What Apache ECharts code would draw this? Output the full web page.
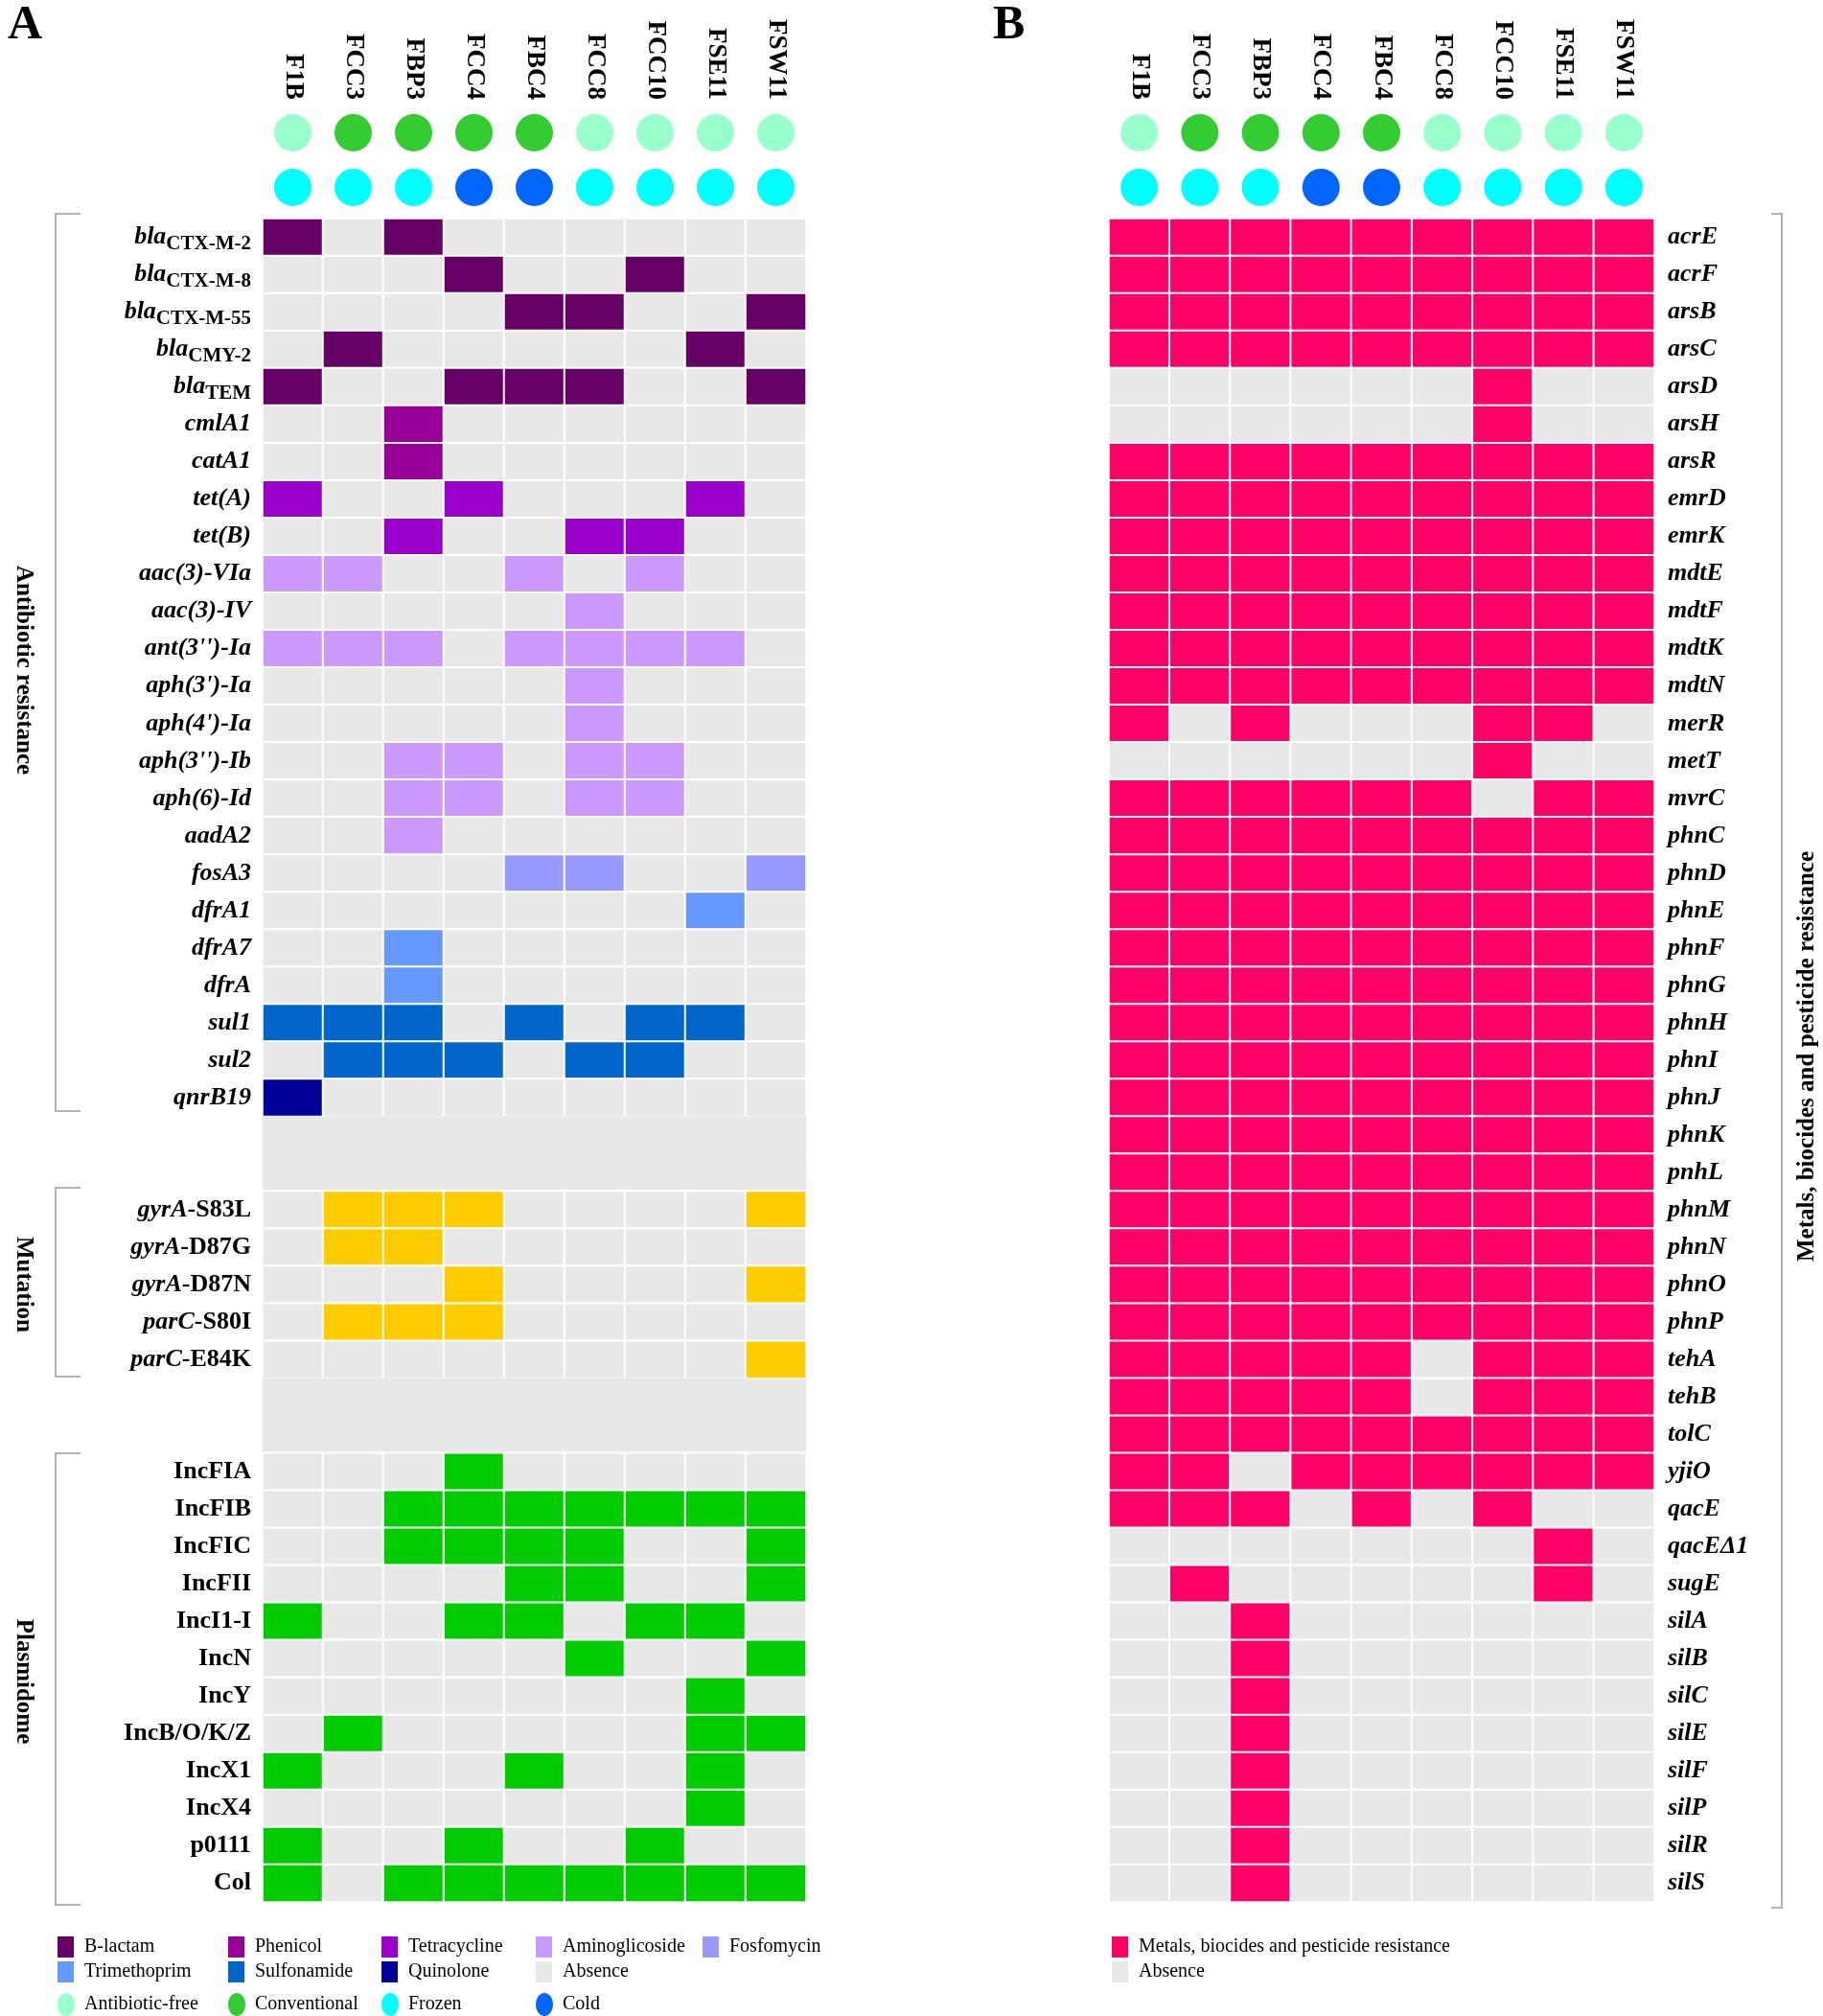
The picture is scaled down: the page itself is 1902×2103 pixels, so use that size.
<!DOCTYPE html>
<html><head><meta charset="utf-8">
<script src="https://cdn.jsdelivr.net/npm/echarts@6/dist/echarts.min.js"></script>
<style>html,body{margin:0;padding:0;background:#fff}#c{width:1902px;height:2103px}</style>
</head><body><div id="c"></div>
<script>
const samples = ['F1B','FCC3','FBP3','FCC4','FBC4','FCC8','FCC10','FSE11','FSW11'];
const sourceType = ['free','conv','conv','conv','conv','free','free','free','free'];
const storageType = ['frozen','frozen','frozen','cold','cold','frozen','frozen','frozen','frozen'];

const argRows = ['blaCTX-M-2','blaCTX-M-8','blaCTX-M-55','blaCMY-2','blaTEM','cmlA1','catA1','tet(A)','tet(B)','aac(3)-VIa','aac(3)-IV',"ant(3'')-Ia","aph(3')-Ia","aph(4')-Ia","aph(3'')-Ib",'aph(6)-Id','aadA2','fosA3','dfrA1','dfrA7','dfrA','sul1','sul2','qnrB19'];
const argClass = [1,1,1,1,1,2,2,3,3,4,4,4,4,4,4,4,4,5,6,6,6,7,7,8];
const argMatrix = [
 [1,0,1,0,0,0,0,0,0],[0,0,0,1,0,0,1,0,0],[0,0,0,0,1,1,0,0,1],[0,1,0,0,0,0,0,1,0],[1,0,0,1,1,1,0,0,1],
 [0,0,1,0,0,0,0,0,0],[0,0,1,0,0,0,0,0,0],[1,0,0,1,0,0,0,1,0],[0,0,1,0,0,1,1,0,0],
 [1,1,0,0,1,0,1,0,0],[0,0,0,0,0,1,0,0,0],[1,1,1,0,1,1,1,1,0],[0,0,0,0,0,1,0,0,0],[0,0,0,0,0,1,0,0,0],
 [0,0,1,1,0,1,1,0,0],[0,0,1,1,0,1,1,0,0],[0,0,1,0,0,0,0,0,0],[0,0,0,0,1,1,0,0,1],
 [0,0,0,0,0,0,0,1,0],[0,0,1,0,0,0,0,0,0],[0,0,1,0,0,0,0,0,0],[1,1,1,0,1,0,1,1,0],[0,1,1,1,0,1,1,0,0],[1,0,0,0,0,0,0,0,0]];
const mutRows = ['gyrA-S83L','gyrA-D87G','gyrA-D87N','parC-S80I','parC-E84K'];
const mutMatrix = [[0,1,1,1,0,0,0,0,1],[0,1,1,0,0,0,0,0,0],[0,0,0,1,0,0,0,0,1],[0,1,1,1,0,0,0,0,0],[0,0,0,0,0,0,0,0,1]];
const plasRows = ['IncFIA','IncFIB','IncFIC','IncFII','IncI1-I','IncN','IncY','IncB/O/K/Z','IncX1','IncX4','p0111','Col'];
const plasMatrix = [[0,0,0,1,0,0,0,0,0],[0,0,1,1,1,1,1,1,1],[0,0,1,1,1,1,0,0,1],[0,0,0,0,1,1,0,0,1],
 [1,0,0,1,1,0,1,1,0],[0,0,0,0,0,1,0,0,1],[0,0,0,0,0,0,0,1,0],[0,1,0,0,0,0,0,1,1],[1,0,0,0,1,0,0,1,0],
 [0,0,0,0,0,0,0,1,0],[1,0,0,1,0,0,1,0,0],[1,0,1,1,1,1,1,1,1]];
const metalRows = ['acrE','acrF','arsB','arsC','arsD','arsH','arsR','emrD','emrK','mdtE','mdtF','mdtK','mdtN','merR','metT','mvrC','phnC','phnD','phnE','phnF','phnG','phnH','phnI','phnJ','phnK','pnhL','phnM','phnN','phnO','phnP','tehA','tehB','tolC','yjiO','qacE','qacEΔ1','sugE','silA','silB','silC','silE','silF','silP','silR','silS'];
const A=[1,1,1,1,1,1,1,1,1];
const metalMatrix = [A,A,A,A,[0,0,0,0,0,0,1,0,0],[0,0,0,0,0,0,1,0,0],A,A,A,A,A,A,A,
 [1,0,1,0,0,0,1,1,0],[0,0,0,0,0,0,1,0,0],[1,1,1,1,1,1,0,1,1],
 A,A,A,A,A,A,A,A,A,A,A,A,A,A,
 [1,1,1,1,1,0,1,1,1],[1,1,1,1,1,0,1,1,1],A,[1,1,0,1,1,1,1,1,1],[1,1,1,0,1,0,1,0,0],
 [0,0,0,0,0,0,0,1,0],[0,1,0,0,0,0,0,1,0],
 [0,0,1,0,0,0,0,0,0],[0,0,1,0,0,0,0,0,0],[0,0,1,0,0,0,0,0,0],[0,0,1,0,0,0,0,0,0],[0,0,1,0,0,0,0,0,0],[0,0,1,0,0,0,0,0,0],[0,0,1,0,0,0,0,0,0],[0,0,1,0,0,0,0,0,0]];

const classColors = ['#E8E8E8','#660066','#990099','#9900CC','#CC99FF','#9999FF','#6699FF','#0066CC','#000099','#FFCC00','#00CC00','#FF0066','#E8E8E8'];
const dotColors = {free:'#99FFCC',conv:'#33CC33',frozen:'#00FFFF',cold:'#0066FF'};

const rowsA = [], dataA = [];
function addRows(names, matrix, cls){
  names.forEach((n,r)=>{ const y=rowsA.length; rowsA.push(n);
    matrix[r].forEach((v,x)=>dataA.push([x,y,v?(Array.isArray(cls)?cls[r]:cls):0])); });
}
function addBlank(k){ for(let i=0;i<k;i++){ const y=rowsA.length; rowsA.push('_b'+y);
  samples.forEach((s,x)=>dataA.push({value:[x,y,12],itemStyle:{borderWidth:0}})); } }
addRows(argRows,argMatrix,argClass); addBlank(2);
addRows(mutRows,mutMatrix,9); addBlank(2);
addRows(plasRows,plasMatrix,10);
const dataB=[];
metalRows.forEach((n,r)=>metalMatrix[r].forEach((v,x)=>dataB.push([x,r,v?11:0])));

function fmtA(v){
  if(v.startsWith('_b')) return '';
  if(v.startsWith('bla')) return '{i|bla}{s|'+v.slice(3)+'}';
  if(v.startsWith('gyrA')||v.startsWith('parC')) return '{i|'+v.slice(0,4)+'}{b|'+v.slice(4)+'}';
  if(plasRows.includes(v)) return '{b|'+v+'}';
  return '{i|'+v+'}';
}
const FF='"Liberation Serif","Times New Roman",serif';
const rich={i:{fontFamily:FF,fontSize:26,fontWeight:'bold',fontStyle:'italic',color:'#000'},
 s:{fontFamily:FF,fontSize:21,fontWeight:'bold',color:'#000',padding:[14,0,0,0]},
 b:{fontFamily:FF,fontSize:26,fontWeight:'bold',color:'#000'}};

const gridAx=274, gridBx=1157, gw=567, gtop=228, gh=1756;
const chart = echarts.init(document.getElementById('c'));
const dotData = ()=>{const d=[];samples.forEach((s,i)=>{d.push({value:[i,0],itemStyle:{color:dotColors[sourceType[i]],opacity:1}});d.push({value:[i,1],itemStyle:{color:dotColors[storageType[i]],opacity:1}});});return d;};
const xTop = (gi)=>({type:'category',gridIndex:gi,data:samples,position:'top',axisLine:{show:false},axisTick:{show:false},
  axisLabel:{rotate:90,margin:6,fontFamily:FF,fontSize:27,fontWeight:'bold',color:'#000'}});
const xHid = (gi)=>({type:'category',gridIndex:gi,data:samples,show:false});

const gray='#999';
function bracketL(y1,y2){return {type:'polyline',shape:{points:[[84,y1],[58,y1],[58,y2],[84,y2]]},style:{stroke:gray,lineWidth:1.5,fill:null}};}
const legendItems=[
 ['B-lactam',1,60,2031],['Phenicol',2,238,2031],['Tetracycline',3,398,2031],['Aminoglicoside',4,559,2031],['Fosfomycin',5,733,2031],
 ['Trimethoprim',6,60,2057],['Sulfonamide',7,238,2057],['Quinolone',8,398,2057],['Absence',0,559,2057],
 ['Metals, biocides and pesticide resistance',11,1160,2031],['Absence',0,1160,2057]];
const legendDots=[['Antibiotic-free','free',60,2091],['Conventional','conv',238,2091],['Frozen','frozen',398,2091],['Cold','cold',559,2091]];
const graphics=[
 {type:'text',left:8,top:2,style:{text:'A',font:'bold 50px '+FF,fill:'#000'}},
 {type:'text',left:1036,top:2,style:{text:'B',font:'bold 50px '+FF,fill:'#000'}},
 bracketL(223,1159),bracketL(1239,1436),bracketL(1516,1987),
 {type:'polyline',shape:{points:[[1848,223],[1859,223],[1859,1990],[1848,1990]]},style:{stroke:gray,lineWidth:1.5,fill:null}},
 {type:'text',x:24,y:699,rotation:-Math.PI/2,style:{text:'Antibiotic resistance',font:'bold 25px '+FF,fill:'#000',align:'center',verticalAlign:'middle'}},
 {type:'text',x:24,y:1340,rotation:-Math.PI/2,style:{text:'Mutation',font:'bold 25px '+FF,fill:'#000',align:'center',verticalAlign:'middle'}},
 {type:'text',x:24,y:1754,rotation:-Math.PI/2,style:{text:'Plasmidome',font:'bold 25px '+FF,fill:'#000',align:'center',verticalAlign:'middle'}},
 {type:'text',x:1886,y:1102,rotation:Math.PI/2,style:{text:'Metals, biocides and pesticide resistance',font:'bold 25px '+FF,fill:'#000',align:'center',verticalAlign:'middle'}}
];
legendItems.forEach(([t,c,x,y])=>{graphics.push({type:'rect',shape:{x:x,y:y-11,width:17,height:22},style:{fill:classColors[c]}});
 graphics.push({type:'text',x:x+28,y:y,style:{text:t,font:'20px '+FF,fill:'#000',verticalAlign:'middle'}});});
legendDots.forEach(([t,c,x,y])=>{graphics.push({type:'ellipse',shape:{cx:x+9,cy:y,rx:9,ry:12},style:{fill:dotColors[c]}});
 graphics.push({type:'text',x:x+28,y:y,style:{text:t,font:'20px '+FF,fill:'#000',verticalAlign:'middle'}});});

chart.setOption({
 animation:false,backgroundColor:'#fff',
 grid:[{left:gridAx,top:gtop,width:gw,height:gh},{left:gridBx,top:gtop,width:gw+2,height:gh},
   {left:gridAx,top:110,width:gw,height:114},{left:gridBx,top:110,width:gw+2,height:114}],
 xAxis:[xHid(0),xHid(1),xTop(2),xTop(3)],
 yAxis:[
  {type:'category',gridIndex:0,data:rowsA,inverse:true,axisLine:{show:false},axisTick:{show:false},
   axisLabel:{margin:12,formatter:fmtA,rich:rich,interval:0}},
  {type:'category',gridIndex:1,data:metalRows,inverse:true,position:'right',axisLine:{show:false},axisTick:{show:false},
   axisLabel:{margin:14,interval:0,fontFamily:FF,fontSize:26,fontWeight:'bold',fontStyle:'italic',color:'#000'}},
  {type:'category',gridIndex:2,data:['s','t'],inverse:true,show:false},
  {type:'category',gridIndex:3,data:['s','t'],inverse:true,show:false}],
 visualMap:{type:'piecewise',show:false,dimension:2,seriesIndex:[0,1],pieces:classColors.map((c,i)=>({value:i,color:c}))},
 series:[
  {type:'heatmap',xAxisIndex:0,yAxisIndex:0,data:dataA,itemStyle:{borderColor:'#fff',borderWidth:2}},
  {type:'heatmap',xAxisIndex:1,yAxisIndex:1,data:dataB,itemStyle:{borderColor:'#fff',borderWidth:2}},
  {type:'scatter',xAxisIndex:2,yAxisIndex:2,symbolSize:39,itemStyle:{opacity:1},data:dotData()},
  {type:'scatter',xAxisIndex:3,yAxisIndex:3,symbolSize:39,itemStyle:{opacity:1},data:dotData()}],
 graphic:graphics
});
</script></body></html>
